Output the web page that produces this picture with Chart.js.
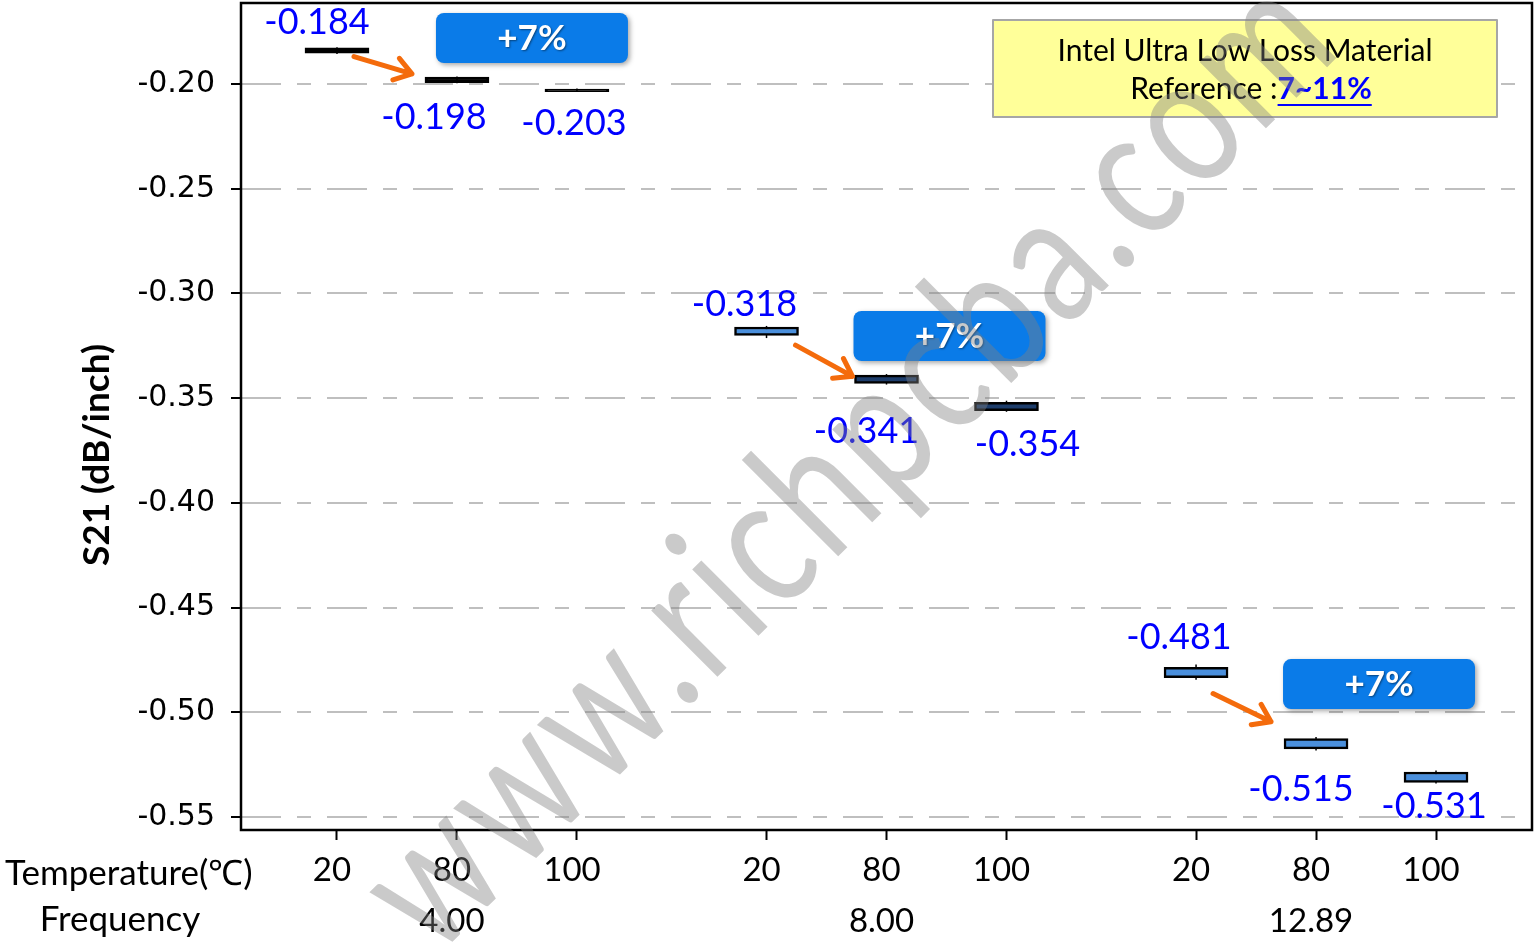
<!DOCTYPE html>
<html>
<head>
<meta charset="utf-8">
<title>S21 vs Temperature</title>
<script src="https://cdn.jsdelivr.net/npm/chart.js@4.4.1/dist/chart.umd.min.js"></script>
<style>
  html, body { margin: 0; padding: 0; background: #ffffff; }
  #wrap { width: 1537px; height: 944px; }
</style>
</head>
<body>
<div id="wrap"><canvas id="chart" width="1537" height="944"></canvas></div>
<script>
// categorias
const temperatures = ['20', '80', '100'];
const frequencies = ['4.00', '8.00', '12.89'];

// mediana de S21 (dB/inch) por frecuencia, en orden de temperatura
const s21At4 = [-0.184, -0.198, -0.203];
const s21At8 = [-0.318, -0.341, -0.354];
const s21At1289 = [-0.481, -0.515, -0.531];

// caja (Q1 / Q3) y bigotes, mismo orden que arriba
const boxLow = [-0.1853, -0.1993, -0.2036, -0.320, -0.343, -0.356, -0.4835, -0.5175, -0.5335];
const boxHigh = [-0.1827, -0.1967, -0.2024, -0.316, -0.339, -0.352, -0.4785, -0.5125, -0.5285];
const whiskerLow = [-0.1856, -0.1996, -0.2038, -0.3213, -0.3435, -0.3565, -0.4845, -0.5182, -0.534];
const whiskerHigh = [-0.1824, -0.1964, -0.2021, -0.3155, -0.3385, -0.3512, -0.4772, -0.5118, -0.5278];

const yTicks = [-0.20, -0.25, -0.30, -0.35, -0.40, -0.45, -0.50, -0.55];
const badgeText = ['+7%', '+7%', '+7%'];

const medians = [...s21At4, ...s21At8, ...s21At1289];

// posicion x de cada caja: grupos de 3 temperaturas separados por un hueco
const GROUP_STEP = 3.58;
const xPos = [];
frequencies.forEach((f, g) => temperatures.forEach((t, i) => xPos.push(1 + g * GROUP_STEP + i)));

const boxData = xPos.map((x, i) => ({ x: x, y: [boxLow[i], boxHigh[i]] }));

// las cajas mas finas se ven casi negras
const boxFill = ['#000000', '#000000', '#000000', '#4a8fdc', '#1d3d6b', '#1d3d6b', '#4a8fdc', '#4a8fdc', '#4a8fdc'];

const FONT = 'Lato, "Open Sans", sans-serif';

// desplazamiento de las etiquetas de valor respecto a la caja (px)
const labelOffsets = [[-20, -28], [-23, 38], [-3, 33], [-22, -27], [-20, 52], [21, 38], [-17, -35], [-15, 46], [-2, 29]];
// flechas: [dx0, dy0, dx1, dy1] desde la caja de 20 hasta la de 80
const arrowOffsets = [[17, 6, -45, -6], [29, 14, -34, -3], [17, 21, -45, -22]];
// centro de los globos "+7%" (x relativo a 80, y en unidades del eje)
const badgeCenters = [[0.625, -0.178], [0.525, -0.3203], [0.525, -0.4865]];

function roundRect(ctx, x, y, w, h, r) {
    ctx.beginPath();
    ctx.moveTo(x + r, y);
    ctx.arcTo(x + w, y, x + w, y + h, r);
    ctx.arcTo(x + w, y + h, x, y + h, r);
    ctx.arcTo(x, y + h, x, y, r);
    ctx.arcTo(x, y, x + w, y, r);
    ctx.closePath();
}

// bigotes por detras de las cajas
const whiskerPlugin = {
    id: 'whiskers',
    beforeDatasetsDraw(chart) {
        const { ctx, scales: { x, y } } = chart;
        ctx.save();
        ctx.strokeStyle = '#000';
        ctx.lineWidth = 1.5;
        xPos.forEach((p, i) => {
            const px = x.getPixelForValue(p);
            ctx.beginPath();
            ctx.moveTo(px, y.getPixelForValue(whiskerLow[i]));
            ctx.lineTo(px, y.getPixelForValue(whiskerHigh[i]));
            ctx.stroke();
        });
        ctx.restore();
    }
};

// marco, textos, flechas, globos, leyenda y marca de agua
const decorPlugin = {
    id: 'decor',
    afterDatasetsDraw(chart) {
        const { ctx, chartArea: a, scales: { x, y } } = chart;
        ctx.save();

        // marco del area de grafico
        ctx.strokeStyle = '#000';
        ctx.lineWidth = 2.5;
        ctx.strokeRect(a.left, a.top, a.right - a.left, a.bottom - a.top);

        // etiquetas de valor
        ctx.fillStyle = '#0000ff';
        ctx.font = '36px ' + FONT;
        ctx.textAlign = 'center';
        ctx.textBaseline = 'middle';
        medians.forEach((v, i) => {
            const px = x.getPixelForValue(xPos[i]) + labelOffsets[i][0];
            const py = y.getPixelForValue(v) + labelOffsets[i][1];
            ctx.fillText(v.toFixed(3), px, py);
        });

        // flechas naranjas
        ctx.strokeStyle = '#f46b0c';
        ctx.lineWidth = 5;
        ctx.lineCap = 'round';
        ctx.lineJoin = 'round';
        arrowOffsets.forEach((o, g) => {
            const i0 = g * 3, i1 = g * 3 + 1;
            const x0 = x.getPixelForValue(xPos[i0]) + o[0];
            const y0 = y.getPixelForValue(medians[i0]) + o[1];
            const x1 = x.getPixelForValue(xPos[i1]) + o[2];
            const y1 = y.getPixelForValue(medians[i1]) + o[3];
            const ang = Math.atan2(y1 - y0, x1 - x0);
            ctx.beginPath();
            ctx.moveTo(x0, y0);
            ctx.lineTo(x1, y1);
            ctx.moveTo(x1 - 20 * Math.cos(ang - 0.6), y1 - 20 * Math.sin(ang - 0.6));
            ctx.lineTo(x1, y1);
            ctx.lineTo(x1 - 20 * Math.cos(ang + 0.6), y1 - 20 * Math.sin(ang + 0.6));
            ctx.stroke();
        });

        // globos azules "+7%"
        badgeCenters.forEach((c, g) => {
            const cx = x.getPixelForValue(xPos[g * 3 + 1] + c[0]);
            const cy = y.getPixelForValue(c[1]);
            ctx.save();
            ctx.shadowColor = 'rgba(0,0,0,0.35)';
            ctx.shadowBlur = 5;
            ctx.shadowOffsetX = 2;
            ctx.shadowOffsetY = 2;
            ctx.fillStyle = '#0a7be8';
            roundRect(ctx, cx - 96, cy - 25, 192, 50, 8);
            ctx.fill();
            ctx.restore();
            ctx.save();
            ctx.fillStyle = '#ffffff';
            ctx.font = 'bold 35px ' + FONT;
            ctx.textAlign = 'center';
            ctx.textBaseline = 'middle';
            ctx.shadowColor = 'rgba(0,0,0,0.45)';
            ctx.shadowBlur = 2;
            ctx.shadowOffsetX = 1;
            ctx.shadowOffsetY = 1;
            ctx.fillText(badgeText[g], cx, cy + 1);
            ctx.restore();
        });

        // recuadro amarillo de referencia
        const lx = a.right - 539, ly = a.top + 17, lw = 504, lh = 97;
        ctx.fillStyle = '#ffff99';
        ctx.fillRect(lx, ly, lw, lh);
        ctx.strokeStyle = '#a6a6a6';
        ctx.lineWidth = 2;
        ctx.strokeRect(lx, ly, lw, lh);
        ctx.fillStyle = '#000';
        ctx.font = '30px ' + FONT;
        ctx.textAlign = 'center';
        ctx.textBaseline = 'middle';
        ctx.fillText('Intel Ultra Low Loss Material', lx + lw / 2, ly + 31);
        const part1 = 'Reference :', part2 = '7~11%';
        ctx.font = '30px ' + FONT;
        const w1 = ctx.measureText(part1).width;
        ctx.font = 'bold 30px ' + FONT;
        const w2 = ctx.measureText(part2).width;
        const sx = lx + lw / 2 - (w1 + w2) / 2 + 6;
        ctx.textAlign = 'left';
        ctx.font = '30px ' + FONT;
        ctx.fillText(part1, sx, ly + 69);
        ctx.fillStyle = '#0000ff';
        ctx.font = 'bold 30px ' + FONT;
        ctx.fillText(part2, sx + w1, ly + 69);
        ctx.fillRect(sx + w1, ly + 84, w2, 2);

        ctx.restore();
    },
    afterDraw(chart) {
        const { ctx } = chart;
        ctx.save();

        // titulo del eje Y
        ctx.fillStyle = '#000';
        ctx.font = 'bold 37px ' + FONT;
        ctx.textAlign = 'center';
        ctx.textBaseline = 'middle';
        ctx.translate(97, 455);
        ctx.rotate(-Math.PI / 2);
        ctx.fillText('S21 (dB/inch)', 0, 0);
        ctx.setTransform(1, 0, 0, 1, 0, 0);

        // nombres de las dos filas del eje X
        ctx.font = '35px ' + FONT;
        ctx.textAlign = 'left';
        ctx.fillText('Temperature(℃)', 5, 874);
        ctx.textAlign = 'center';
        ctx.fillText('Frequency', 120, 920);

        // marca de agua
        ctx.translate(848, 462);
        ctx.rotate(-Math.PI / 4);
        ctx.fillStyle = 'rgba(128,128,128,0.42)';
        ctx.font = '185px Lato, sans-serif';
        ctx.letterSpacing = '6px';
        const mark = 'www.richpcba.com';
        const mw = ctx.measureText(mark).width;
        ctx.scale(1290 / mw, 1);
        ctx.fillText(mark, 0, 0);
        ctx.restore();
    }
};

const ctx = document.getElementById('chart').getContext('2d');
new Chart(ctx, {
    type: 'bar',
    data: {
        datasets: [{
            label: 'S21',
            data: boxData,
            backgroundColor: boxFill,
            borderColor: '#000000',
            borderWidth: 2.5,
            borderSkipped: false,
            barThickness: 64,
            grouped: false
        }]
    },
    options: {
        responsive: false,
        animation: false,
        layout: { padding: { top: 3, right: 5, left: 0, bottom: 0 } },
        plugins: {
            legend: { display: false },
            tooltip: { enabled: false }
        },
        scales: {
            x: {
                type: 'linear',
                min: 0.2,
                max: 10.96,
                offset: false,
                afterFit: (s) => { s.height = 114; s.paddingLeft = 0; s.paddingRight = 0; },
                afterBuildTicks: (s) => { s.ticks = xPos.map(v => ({ value: v })); },
                grid: {
                    offset: false,
                    drawOnChartArea: false,
                    drawTicks: true,
                    tickLength: 10,
                    tickColor: '#000',
                    tickWidth: 2
                },
                border: { display: false },
                ticks: {
                    autoSkip: false,
                    maxRotation: 0,
                    padding: 5,
                    labelOffset: -5,
                    color: '#000',
                    font: { family: FONT, size: 33, lineHeight: 1.55 },
                    callback: (v, i) => [temperatures[i % 3], i % 3 === 1 ? frequencies[Math.floor(i / 3)] : '']
                }
            },
            y: {
                min: -0.5562,
                max: -0.1613,
                afterFit: (s) => { s.width = 241; s.paddingTop = 0; s.paddingBottom = 0; },
                afterBuildTicks: (s) => { s.ticks = yTicks.map(v => ({ value: v })); },
                grid: {
                    color: '#bfbfbf',
                    lineWidth: 2,
                    tickColor: '#000',
                    tickLength: 10,
                    tickWidth: 2,
                    tickBorderDash: []
                },
                border: { display: false, dash: [40, 16, 14, 16] },
                ticks: {
                    padding: 16,
                    color: '#000',
                    font: { family: '"DejaVu Sans", sans-serif', size: 30 },
                    callback: (v) => Number(v).toFixed(2)
                }
            }
        }
    },
    plugins: [whiskerPlugin, decorPlugin]
});
</script>
</body>
</html>
